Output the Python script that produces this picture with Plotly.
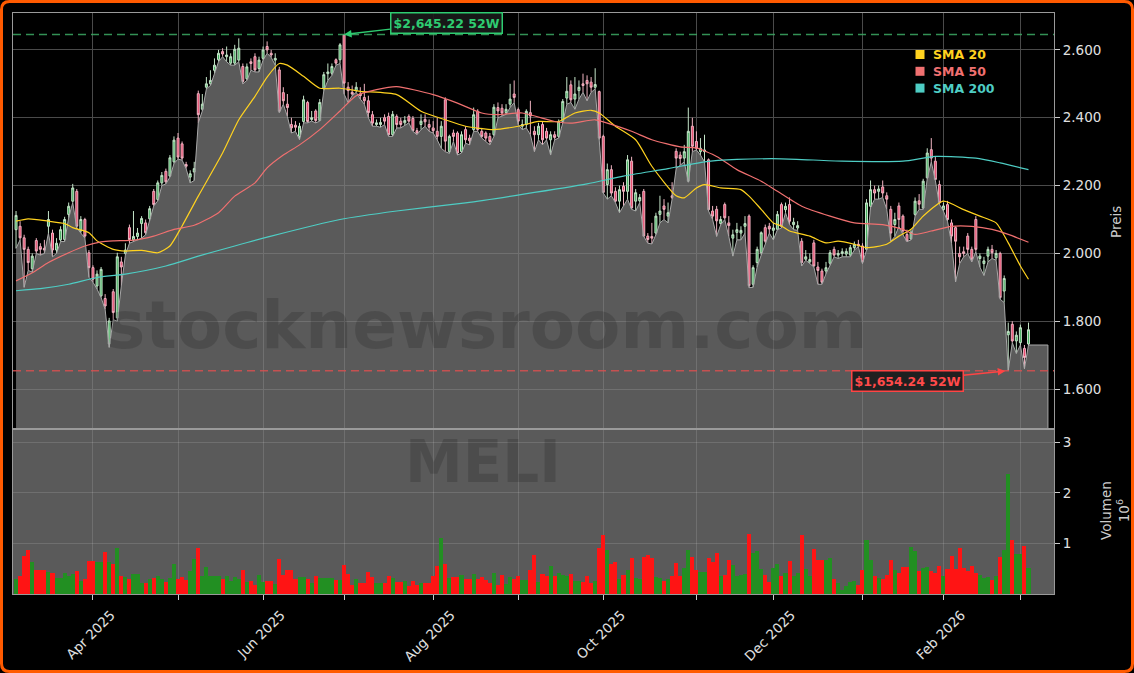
import pandas as pd
import plotly.graph_objects as go
from plotly.subplots import make_subplots

# ---------------- data ----------------
TICKER = "MELI"
START, END = "2025-03-05", "2026-03-04"
HOLIDAYS = ["2025-04-18", "2025-05-26", "2025-06-19", "2025-07-04", "2025-09-01",
            "2025-11-27", "2025-12-25", "2026-01-01", "2026-01-19", "2026-02-16"]
dates = [d for d in pd.bdate_range(START, END) if d.strftime("%Y-%m-%d") not in HOLIDAYS]

open_ = [
    2070, 2080, 2046, 2012, 1955, 2038, 2020, 2015, 2080, 2060,
    2010, 2040, 2041, 2115, 2154, 2183, 2066, 2100, 2002, 1958,
    1904, 1875, 1867, 1733, 1887, 1810, 1975, 2000, 2076, 2040,
    2050, 2088, 2090, 2102, 2183, 2159, 2208, 2242, 2228, 2270,
    2340, 2323, 2262, 2225, 2240, 2471, 2425, 2490, 2500, 2540,
    2571, 2595, 2580, 2561, 2561, 2570, 2551, 2515, 2565, 2580,
    2545, 2575, 2610, 2590, 2570, 2541, 2474, 2440, 2380, 2378,
    2345, 2389, 2445, 2395, 2420, 2392, 2487, 2530, 2531, 2571,
    2571, 2644, 2490, 2475, 2480, 2470, 2460, 2450, 2409, 2380,
    2380, 2400, 2404, 2350, 2404, 2390, 2385, 2404, 2398, 2362,
    2380, 2395, 2380, 2370, 2360, 2345, 2453, 2300, 2355, 2355,
    2300, 2365, 2340, 2365, 2419, 2360, 2355, 2345, 2350, 2430,
    2428, 2415, 2440, 2470, 2424, 2375, 2380, 2415, 2360, 2350,
    2380, 2360, 2335, 2350, 2345, 2389, 2458, 2497, 2455, 2480,
    2500, 2510, 2505, 2490, 2477, 2345, 2203, 2247, 2183, 2154,
    2198, 2183, 2272, 2154, 2155, 2183, 2051, 2050, 2060, 2115,
    2140, 2110, 2170, 2301, 2290, 2281, 2213, 2375, 2330, 2300,
    2300, 2276, 2125, 2130, 2088, 2144, 2090, 2045, 2062, 2060,
    2080, 2110, 1909, 1973, 2002, 2076, 2080, 2068, 2071, 2144,
    2129, 2144, 2085, 2075, 2036, 1983, 1975, 2031, 1960, 1948,
    1948, 1971, 2012, 1995, 2000, 1998, 1995, 2017, 2027, 2022,
    2012, 2139, 2188, 2183, 2196, 2170, 2130, 2085, 2140, 2110,
    2056, 2043, 2115, 2155, 2134, 2223, 2306, 2272, 2203, 2129,
    2144, 2090, 2076, 2000, 2005, 2051, 2012, 2100, 1985, 1970,
    1992, 2012, 1987, 2000, 1889, 1760, 1791, 1742, 1737, 1720,
    1733]
high = [
    2125, 2095, 2055, 2020, 2000, 2045, 2030, 2040, 2125, 2070,
    2045, 2080, 2108, 2150, 2205, 2190, 2110, 2105, 2010, 1965,
    1950, 1960, 1880, 1810, 1895, 2002, 1990, 2030, 2085, 2125,
    2075, 2110, 2100, 2140, 2190, 2215, 2240, 2250, 2290, 2345,
    2355, 2330, 2270, 2245, 2270, 2480, 2470, 2520, 2540, 2575,
    2600, 2605, 2610, 2590, 2615, 2634, 2560, 2560, 2575, 2590,
    2580, 2610, 2625, 2600, 2590, 2550, 2490, 2470, 2400, 2390,
    2385, 2465, 2450, 2420, 2425, 2455, 2535, 2560, 2560, 2575,
    2620, 2645.22, 2505, 2495, 2505, 2490, 2500, 2465, 2420, 2395,
    2400, 2410, 2415, 2420, 2410, 2400, 2405, 2410, 2405, 2370,
    2410, 2410, 2395, 2390, 2400, 2390, 2460, 2350, 2365, 2360,
    2360, 2375, 2350, 2430, 2425, 2370, 2360, 2355, 2440, 2445,
    2440, 2440, 2500, 2510, 2430, 2395, 2425, 2450, 2375, 2385,
    2390, 2370, 2360, 2360, 2395, 2455, 2520, 2510, 2520, 2510,
    2530, 2525, 2520, 2546, 2480, 2350, 2265, 2260, 2195, 2200,
    2210, 2290, 2285, 2190, 2175, 2190, 2060, 2090, 2120, 2170,
    2160, 2150, 2210, 2310, 2300, 2320, 2430, 2400, 2360, 2340,
    2350, 2280, 2140, 2140, 2110, 2150, 2110, 2070, 2090, 2080,
    2110, 2115, 1965, 2020, 2065, 2085, 2090, 2090, 2125, 2150,
    2150, 2165, 2105, 2095, 2045, 2010, 2000, 2040, 1975, 1955,
    1975, 2010, 2020, 2010, 2015, 2015, 2025, 2035, 2040, 2030,
    2160, 2215, 2200, 2200, 2215, 2180, 2140, 2120, 2150, 2115,
    2070, 2070, 2165, 2175, 2220, 2310, 2340, 2285, 2215, 2150,
    2155, 2100, 2080, 2020, 2020, 2060, 2020, 2110, 2000, 1990,
    2020, 2025, 2010, 2005, 1935, 1796, 1800, 1770, 1790, 1730,
    1796]
low = [
    2015, 2040, 1900, 1950, 1945, 2000, 1995, 2000, 2060, 1990,
    2000, 2035, 2035, 2105, 2150, 2075, 2060, 2045, 1930, 1915,
    1895, 1870, 1835, 1723, 1805, 1800, 1905, 1995, 2030, 2035,
    2040, 2045, 2055, 2095, 2140, 2155, 2200, 2205, 2225, 2265,
    2278, 2275, 2250, 2208, 2215, 2385, 2420, 2485, 2495, 2530,
    2565, 2580, 2565, 2555, 2555, 2565, 2500, 2510, 2540, 2535,
    2535, 2570, 2590, 2578, 2555, 2415, 2440, 2404, 2355, 2360,
    2335, 2385, 2385, 2390, 2385, 2390, 2480, 2510, 2525, 2555,
    2560, 2470, 2445, 2465, 2475, 2455, 2440, 2400, 2375, 2375,
    2372, 2380, 2345, 2345, 2370, 2370, 2378, 2385, 2360, 2350,
    2365, 2375, 2360, 2355, 2335, 2310, 2300, 2295, 2330, 2290,
    2296, 2325, 2320, 2360, 2360, 2340, 2330, 2320, 2345, 2400,
    2405, 2410, 2430, 2445, 2380, 2365, 2370, 2350, 2300, 2335,
    2320, 2335, 2290, 2335, 2340, 2385, 2440, 2445, 2425, 2455,
    2475, 2450, 2475, 2485, 2335, 2178, 2160, 2170, 2150, 2120,
    2140, 2160, 2130, 2125, 2150, 2050, 2030, 2028, 2055, 2090,
    2100, 2090, 2160, 2250, 2260, 2270, 2210, 2300, 2305, 2290,
    2270, 2125, 2100, 2050, 2085, 2100, 2050, 1992, 2040, 2040,
    2060, 1899, 1900, 1960, 1995, 2030, 2060, 2040, 2070, 2075,
    2120, 2085, 2070, 2068, 1963, 1980, 1970, 1960, 1909, 1909,
    1940, 1965, 1990, 1985, 1990, 1990, 1990, 2010, 2020, 1970,
    2010, 2135, 2160, 2160, 2165, 2130, 2036, 2050, 2080, 2055,
    2035, 2040, 2110, 2130, 2130, 2220, 2270, 2215, 2145, 2125,
    2095, 2030, 1916, 1970, 1990, 2000, 1975, 2005, 1960, 1935,
    1975, 1985, 1980, 1865, 1855, 1654.24, 1737, 1705, 1730, 1660,
    1730]
close = [
    2112, 2046, 2012, 1973, 1992, 2007, 2012, 2010, 2100, 2010,
    2030, 2070, 2100, 2139, 2193, 2080, 2100, 2051, 1958, 1924,
    1939, 1953, 1845, 1801, 1826, 1990, 1960, 2010, 2041, 2050,
    2060, 2103, 2061, 2132, 2144, 2208, 2230, 2211, 2282, 2334,
    2284, 2281, 2257, 2235, 2250, 2409, 2440, 2500, 2510, 2555,
    2590, 2588, 2585, 2580, 2602, 2605, 2507, 2550, 2560, 2541,
    2570, 2600, 2600, 2585, 2575, 2419, 2450, 2430, 2370, 2372,
    2375, 2453, 2389, 2400, 2392, 2445, 2527, 2535, 2551, 2561,
    2615, 2502, 2480, 2470, 2490, 2465, 2450, 2415, 2384, 2385,
    2386, 2390, 2350, 2410, 2380, 2380, 2392, 2390, 2362, 2355,
    2390, 2388, 2372, 2362, 2345, 2375, 2331, 2345, 2345, 2296,
    2350, 2335, 2332, 2409, 2365, 2345, 2340, 2330, 2431, 2420,
    2414, 2425, 2455, 2460, 2390, 2380, 2419, 2405, 2350, 2375,
    2335, 2340, 2350, 2342, 2389, 2448, 2478, 2453, 2470, 2490,
    2495, 2500, 2490, 2498, 2340, 2180, 2247, 2178, 2154, 2188,
    2183, 2276, 2134, 2179, 2165, 2051, 2041, 2045, 2110, 2125,
    2130, 2120, 2165, 2281, 2280, 2300, 2360, 2316, 2310, 2310,
    2305, 2129, 2110, 2096, 2100, 2105, 2082, 2055, 2070, 2068,
    2088, 1905, 1958, 2012, 2061, 2036, 2072, 2075, 2115, 2080,
    2139, 2095, 2092, 2082, 1973, 1990, 1982, 1963, 1950, 1915,
    1958, 2002, 1995, 2000, 2005, 2006, 2017, 2027, 2022, 1975,
    2149, 2188, 2178, 2190, 2178, 2160, 2060, 2100, 2100, 2066,
    2036, 2063, 2154, 2145, 2213, 2296, 2281, 2218, 2149, 2140,
    2100, 2051, 2036, 1990, 2000, 2012, 1983, 2012, 1992, 1978,
    2012, 2002, 2000, 1870, 1926, 1770, 1742, 1759, 1781, 1693,
    1775]
volume_m = [
    0.30, 0.36, 0.76, 0.86, 0.63, 0.48, 0.48, 0.48, 0.43, 0.42,
    0.32, 0.32, 0.42, 0.35, 0.40, 0.46, 0.25, 0.30, 0.66, 0.66,
    0.63, 0.63, 0.83, 0.64, 0.60, 0.91, 0.36, 0.34, 0.29, 0.40,
    0.40, 0.22, 0.22, 0.30, 0.32, 0.36, 0.29, 0.23, 0.32, 0.59,
    0.30, 0.33, 0.27, 0.46, 0.69, 0.90, 0.36, 0.53, 0.35, 0.36,
    0.36, 0.29, 0.35, 0.25, 0.33, 0.29, 0.48, 0.23, 0.25, 0.18,
    0.38, 0.23, 0.25, 0.25, 0.20, 0.70, 0.38, 0.48, 0.48, 0.29,
    0.33, 0.33, 0.29, 0.21, 0.35, 0.32, 0.32, 0.32, 0.32, 0.27,
    0.27, 0.57, 0.40, 0.17, 0.29, 0.21, 0.21, 0.44, 0.34, 0.22,
    0.22, 0.22, 0.36, 0.31, 0.24, 0.24, 0.25, 0.16, 0.25, 0.17,
    0.22, 0.22, 0.22, 0.35, 0.55, 1.11, 0.60, 0.31, 0.33, 0.33,
    0.38, 0.29, 0.29, 0.40, 0.29, 0.33, 0.27, 0.22, 0.42, 0.17,
    0.38, 0.20, 0.34, 0.29, 0.35, 0.28, 0.28, 0.47, 0.78, 0.23,
    0.40, 0.35, 0.56, 0.36, 0.42, 0.38, 0.36, 0.40, 0.25, 0.25,
    0.24, 0.35, 0.22, 0.25, 0.91, 1.17, 0.87, 0.60, 0.63, 0.30,
    0.37, 0.48, 0.72, 0.32, 0.30, 0.73, 0.78, 0.72, 0.34, 0.31,
    0.26, 0.29, 0.35, 0.61, 0.35, 0.52, 0.87, 0.74, 0.48, 0.43,
    0.43, 0.71, 0.64, 0.81, 0.35, 0.38, 0.68, 0.58, 0.36, 0.38,
    0.40, 1.18, 0.81, 0.85, 0.50, 0.37, 0.24, 0.51, 0.60, 0.36,
    0.42, 0.66, 0.35, 0.42, 1.17, 0.50, 0.36, 0.89, 0.68, 0.68,
    0.68, 0.71, 0.29, 0.22, 0.08, 0.16, 0.24, 0.25, 0.18, 0.48,
    1.06, 0.68, 0.36, 0.32, 0.29, 0.38, 0.68, 0.48, 0.42, 0.53,
    0.53, 0.92, 0.84, 0.45, 0.51, 0.53, 0.46, 0.42, 0.55, 0.35,
    0.50, 0.76, 0.50, 0.91, 0.51, 0.45, 0.56, 0.42, 0.38, 0.32,
    0.33, 0.27, 0.35, 0.74, 0.87, 2.38, 1.07, 0.79, 0.79, 0.95,
    0.51]

# moving averages (trading-day index -> value)
sma20_idx = [0, 3, 8, 12, 14, 18, 20, 24, 27, 31, 35, 38, 41, 45, 51, 55, 59, 62, 65, 67,
             71, 75, 80, 85, 94, 100, 106, 111, 118, 124, 129, 134, 138, 142, 144, 148, 153, 157, 163, 165,
             168, 170, 174, 179, 181, 184, 187, 189, 191, 196, 200, 203, 207, 210, 215, 218, 221, 224, 229, 234,
             238, 242, 245, 248, 250]
sma20_val = [2095, 2102, 2095, 2088, 2076, 2061, 2037, 2012, 2007, 2009, 2002, 2022, 2081, 2169, 2296, 2394, 2463, 2520, 2560, 2555,
             2522, 2487, 2487, 2478, 2468, 2419, 2394, 2375, 2365, 2375, 2389, 2389, 2414, 2422, 2414, 2375, 2335, 2257, 2170, 2164,
             2193, 2203, 2193, 2188, 2169, 2130, 2090, 2081, 2066, 2051, 2031, 2036, 2027, 2017, 2027, 2051, 2071, 2110, 2154, 2129,
             2110, 2090, 2031, 1963, 1924]
sma50_idx = [0, 4, 8, 13, 17, 21, 24, 29, 34, 39, 44, 50, 54, 59, 62, 66, 70, 75, 80, 84,
             89, 94, 103, 109, 115, 119, 125, 133, 137, 143, 146, 152, 157, 164, 168, 173, 178, 184, 188, 194,
             201, 207, 214, 219, 222, 226, 231, 236, 241, 245, 250]
sma50_val = [1919, 1943, 1973, 2002, 2022, 2034, 2037, 2039, 2051, 2071, 2083, 2120, 2169, 2208, 2252, 2290, 2320, 2365, 2420, 2465,
             2483, 2492, 2468, 2443, 2414, 2409, 2414, 2389, 2384, 2394, 2384, 2360, 2335, 2314, 2311, 2286, 2247, 2213, 2183, 2139,
             2110, 2090, 2085, 2071, 2056, 2066, 2080, 2080, 2071, 2056, 2033]
sma200_idx = [0, 6, 13, 20, 27, 37, 45, 54, 63, 80, 94, 111, 125, 141, 150, 161, 170, 178, 189, 204,
              219, 227, 237, 243, 250]
sma200_val = [1890, 1896, 1909, 1929, 1939, 1963, 1992, 2022, 2051, 2100, 2125, 2149, 2174, 2205, 2228, 2250, 2270, 2277, 2279, 2272,
              2272, 2286, 2281, 2267, 2247]

price_ticks = [1600, 1800, 2000, 2200, 2400, 2600]
volume_ticks = [1, 2, 3]
sma_names = ["SMA 20", "SMA 50", "SMA 200"]

# ---------------- styling / layout constants ----------------
W, H = 1134, 673
L_PX, R_PX, T_PX, B_PX = 13, 1054, 13, 594   # plot area in pixels
SPLIT_PX = 428                                 # price / volume boundary
PRICE_RANGE = [1485.3, 2708.8]
VOL_RANGE = [0, 3.24]
X_RANGE = [-0.75, 256.3]
FILL_END = 254.8

C_SMA = ["#FFD21F", "#F07070", "#4ECDC4"]
C_UP, C_DN = "#228f22", "#ff1414"
FONT = "DejaVu Sans"


def px(x):  # pixel -> paper x
    return (x - L_PX) / (R_PX - L_PX)


def py(y):  # pixel -> paper y
    return (B_PX - y) / (B_PX - T_PX)


n = len(close)
idx = list(range(n))
month_ticks = [i for i in range(1, n) if dates[i].month != dates[i - 1].month]
major_ticks = [i for i in month_ticks if dates[i].month % 2 == 0]
major_text = [dates[i].strftime("%b %Y") for i in major_ticks]
minor_ticks = [i for i in month_ticks if dates[i].month % 2 == 1]

fig = make_subplots(rows=2, cols=1, shared_xaxes=True, vertical_spacing=0)

# grey area below the lows
fig.add_trace(go.Scatter(
    x=idx + [FILL_END, FILL_END], y=low + [low[-1], PRICE_RANGE[0] - 50],
    mode="lines", line=dict(color="#a8a8a8", width=1), fill="tozeroy",
    fillcolor="rgba(128,128,128,0.7)", hoverinfo="skip", showlegend=False), row=1, col=1)

for name, xs, ys, col in zip(sma_names, [sma20_idx, sma50_idx, sma200_idx],
                             [sma20_val, sma50_val, sma200_val], C_SMA):
    fig.add_trace(go.Scatter(x=xs, y=ys, mode="lines", name=name,
                             line=dict(color=col, width=1.2, shape="spline", smoothing=0.6),
                             showlegend=False), row=1, col=1)

fig.add_trace(go.Candlestick(
    x=idx, open=open_, high=high, low=low, close=close,
    increasing=dict(fillcolor="#45b060", line=dict(color="#c4e4c8", width=1)),
    decreasing=dict(fillcolor="#e8456a", line=dict(color="#f0b4c2", width=1)),
    whiskerwidth=0, showlegend=False, name=TICKER), row=1, col=1)

vol_colors = [C_UP if c >= o else C_DN for o, c in zip(open_, close)]
fig.add_trace(go.Bar(x=idx, y=volume_m, marker=dict(color=vol_colors, line=dict(width=0)),
                     width=1.0, showlegend=False), row=2, col=1)

axis_common = dict(showline=True, linecolor="#9a9a9a", linewidth=1, mirror=True, zeroline=False)

fig.update_xaxes(range=X_RANGE, tickmode="array", tickvals=major_ticks, ticktext=major_text,
                 showgrid=True, gridcolor="#4a4a4a", gridwidth=1, rangeslider_visible=False,
                 minor=dict(tickmode="array", tickvals=minor_ticks, showgrid=True,
                            gridcolor="#4a4a4a", gridwidth=1),
                 **axis_common)
fig.update_xaxes(showticklabels=False, ticks="", row=1, col=1)
fig.update_xaxes(ticks="outside", ticklen=5, tickcolor="#cccccc", tickangle=-45,
                 ticklabelshift=18, ticklabelstandoff=2,
                 gridcolor="rgba(255,255,255,0.13)",
                 minor=dict(ticks="outside", ticklen=5, tickcolor="#cccccc",
                            gridcolor="rgba(255,255,255,0.13)"),
                 tickfont=dict(size=13.5, color="#e0e0e0", family=FONT), row=2, col=1)

fig.update_yaxes(side="right", range=PRICE_RANGE, tickvals=price_ticks, tickformat=",d",
                 ticks="outside", ticklen=5, tickcolor="#cccccc", gridcolor="#4a4a4a",
                 tickfont=dict(size=13.5, color="#e0e0e0", family=FONT),
                 domain=[py(SPLIT_PX), 1], row=1, col=1, **axis_common)
fig.update_yaxes(side="right", range=VOL_RANGE, tickvals=volume_ticks, ticks="outside", ticklen=5,
                 tickcolor="#cccccc", gridcolor="rgba(255,255,255,0.13)",
                 tickfont=dict(size=13.5, color="#e0e0e0", family=FONT),
                 domain=[0, py(SPLIT_PX + 2)], row=2, col=1, **axis_common)

i_hi = max(range(n), key=lambda i: high[i])
i_lo = min(range(n), key=lambda i: low[i])

shapes = [
    dict(type="rect", xref="x2 domain", yref="y2 domain", x0=0, x1=1, y0=0, y1=1,
         fillcolor="#5a5a5a", line=dict(width=0), layer="below"),
    dict(type="line", xref="paper", yref="y", x0=0, x1=1, y0=high[i_hi], y1=high[i_hi],
         line=dict(color="rgba(60,170,100,0.85)", width=1.5, dash="8px,5px")),
    dict(type="line", xref="paper", yref="y", x0=0, x1=1, y0=low[i_lo], y1=low[i_lo],
         line=dict(color="rgba(215,80,80,0.85)", width=1.5, dash="8px,5px")),
]
# legend squares
for k, col in enumerate(C_SMA):
    yc = 54.5 + 16.8 * k
    shapes.append(dict(type="rect", xref="paper", yref="paper", x0=px(915.5), x1=px(924.5),
                       y0=py(yc + 4.5), y1=py(yc - 4.5), fillcolor=col, line=dict(width=0)))
# orange rounded border
r, a, b, c_, d = 8, 1.5, W - 1.5, 1.5, H - 1.5
path = (f"M {px(a + r)},{py(c_)} L {px(b - r)},{py(c_)} Q {px(b)},{py(c_)} {px(b)},{py(c_ + r)} "
        f"L {px(b)},{py(d - r)} Q {px(b)},{py(d)} {px(b - r)},{py(d)} "
        f"L {px(a + r)},{py(d)} Q {px(a)},{py(d)} {px(a)},{py(d - r)} "
        f"L {px(a)},{py(c_ + r)} Q {px(a)},{py(c_)} {px(a + r)},{py(c_)} Z")
shapes.append(dict(type="path", xref="paper", yref="paper", path=path,
                   line=dict(color="#ff5a00", width=3)))

annotations = [
    dict(text="<b>stocknewsroom.com</b>", xref="paper", yref="paper", x=px(487), y=py(325),
         xanchor="center", yanchor="middle", showarrow=False,
         font=dict(family=FONT, size=66, color="rgba(0,0,0,0.15)")),
    dict(text=f"<b>{TICKER}</b>", xref="paper", yref="paper", x=px(483), y=py(462),
         xanchor="center", yanchor="middle", showarrow=False,
         font=dict(family=FONT, size=58, color="rgba(0,0,0,0.15)")),
    dict(text=f"<b>${high[i_hi]:,.2f} 52W</b>", x=i_hi, y=high[i_hi], xref="x", yref="y",
         ax=102, ay=-12, showarrow=True, arrowhead=2, arrowsize=1, arrowwidth=1.5,
         arrowcolor="#2ecc71", font=dict(family=FONT, size=12.5, color="#2ecc71"),
         bgcolor="rgba(25,25,25,0.9)", bordercolor="#2ecc71", borderwidth=1.5, borderpad=2),
    dict(text=f"<b>${low[i_lo]:,.2f} 52W</b>", x=i_lo, y=low[i_lo], xref="x", yref="y",
         ax=-101, ay=10, showarrow=True, arrowhead=2, arrowsize=1, arrowwidth=1.5,
         arrowcolor="#ff4444", standoff=3, font=dict(family=FONT, size=12.5, color="#ff4a4a"),
         bgcolor="rgba(25,25,25,0.9)", bordercolor="#ff4444", borderwidth=1.5, borderpad=2),
    dict(text="Preis", xref="paper", yref="paper", x=px(1116), y=py(222), textangle=-90,
         xanchor="center", yanchor="middle", showarrow=False,
         font=dict(family=FONT, size=13.5, color="#cccccc")),
    dict(text="Volumen<br>10<sup>6</sup>", xref="paper", yref="paper", x=px(1115), y=py(511),
         textangle=-90, xanchor="center", yanchor="middle", showarrow=False,
         font=dict(family=FONT, size=13.5, color="#cccccc")),
]
for k, (name, col) in enumerate(zip(sma_names, C_SMA)):
    annotations.append(dict(text=f"<b>{name}</b>", xref="paper", yref="paper", x=px(930.5),
                            y=py(54.5 + 16.8 * k), xanchor="left", yanchor="middle",
                            showarrow=False, font=dict(family=FONT, size=12.5, color=col)))

fig.update_layout(
    width=W, height=H, paper_bgcolor="black", plot_bgcolor="black",
    margin=dict(l=L_PX, r=W - R_PX, t=T_PX, b=H - B_PX, autoexpand=False),
    showlegend=False, separators=",.", bargap=0,
    font=dict(family=FONT, color="#dddddd", size=13),
    shapes=shapes, annotations=annotations,
)

fig.write_html("out.html", config={"displayModeBar": False},
               post_script="document.body.style.margin='0px';document.body.style.background='black';")
